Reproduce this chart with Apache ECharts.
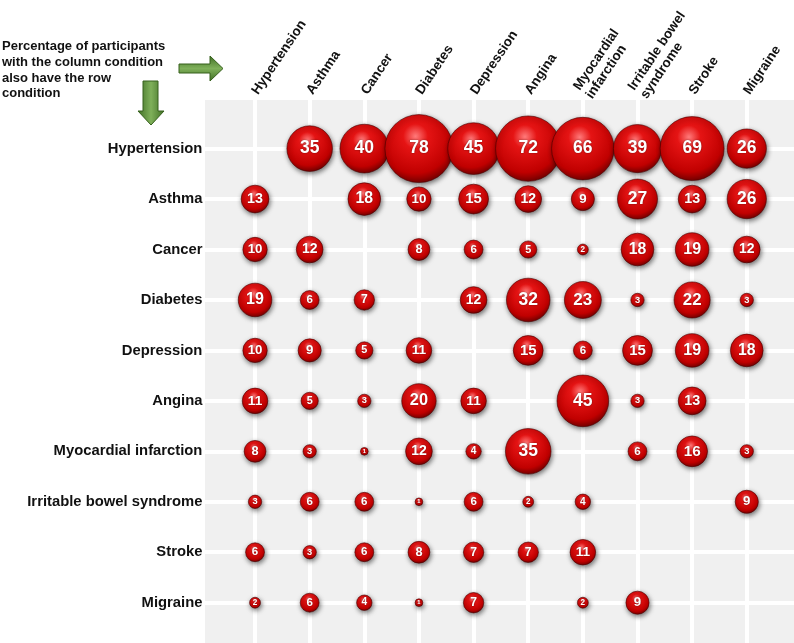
<!DOCTYPE html>
<html>
<head>
<meta charset="utf-8">
<script src="https://cdn.jsdelivr.net/npm/echarts@6/dist/echarts.min.js"></script>
<style>
  html, body { margin: 0; padding: 0; background: #fff; }
  #chart { width: 794px; height: 643px; }
</style>
</head>
<body>
<div id="chart"></div>
<script>
// column condition (top) and row condition (left)
const colNames = ['Hypertension', 'Asthma', 'Cancer', 'Diabetes', 'Depression', 'Angina',
  'Myocardial\ninfarction', 'Irritable bowel\nsyndrome', 'Stroke', 'Migraine']
const rowNames = ['Hypertension', 'Asthma', 'Cancer', 'Diabetes', 'Depression', 'Angina',
  'Myocardial infarction', 'Irritable bowel syndrome', 'Stroke', 'Migraine']

// one array per row, values per column (null = no bubble)
const hypertension = [null, 35, 40, 78, 45, 72, 66, 39, 69, 26]
const asthma       = [13, null, 18, 10, 15, 12, 9, 27, 13, 26]
const cancer       = [10, 12, null, 8, 6, 5, 2, 18, 19, 12]
const diabetes     = [19, 6, 7, null, 12, 32, 23, 3, 22, 3]
const depression   = [10, 9, 5, 11, null, 15, 6, 15, 19, 18]
const angina       = [11, 5, 3, 20, 11, null, 45, 3, 13, null]
const myocardial   = [8, 3, 1, 12, 4, 35, null, 6, 16, 3]
const ibs          = [3, 6, 6, 1, 6, 2, 4, null, null, 9]
const stroke       = [6, 3, 6, 8, 7, 7, 11, null, null, null]
const migraine     = [2, 6, 4, 1, 7, null, 2, 9, null, null]

const rowValues = [hypertension, asthma, cancer, diabetes, depression, angina, myocardial, ibs, stroke, migraine]

const FONT = "'Liberation Sans', Arial, sans-serif"

const bubbleColor = {
  type: 'radial', x: 0.45, y: 0.32, r: 0.72,
  colorStops: [
    { offset: 0, color: '#ff7a7a' },
    { offset: 0.25, color: '#e51414' },
    { offset: 0.75, color: '#c00000' },
    { offset: 1, color: '#620000' }
  ]
}

function bubbleSize(v) {
  return 7.7 * Math.sqrt(v)
}

// label size grows with the bubble, two-digit numbers a bit smaller
function labelSize(v) {
  let d = bubbleSize(v)
  if (v >= 10) return Math.min(17.5, 6 + d * 0.3)
  return Math.min(d * 0.75, 4 + d * 0.4)
}

let points = []
rowValues.forEach((vals, r) => {
  vals.forEach((v, c) => {
    if (v === null) return
    points.push({
      value: [c, r, v],
      label: { fontSize: labelSize(v) }
    })
  })
})

let chart = echarts.init(document.getElementById('chart'))
chart.setOption({
  animation: false,
  backgroundColor: '#fff',
  grid: {
    left: 200.4,
    top: 98.15,
    width: 601,
    height: 555,
    outerBoundsMode: 'none',
    containLabel: false
  },
  xAxis: {
    type: 'value',
    position: 'top',
    min: -1,
    max: 10,
    interval: 1,
    axisLine: { show: false },
    axisTick: { show: false },
    splitLine: { lineStyle: { color: '#fff', width: 4 } },
    axisLabel: {
      rotate: 56,
      margin: 5,
      color: '#111',
      fontWeight: 'bold',
      fontSize: 13.5,
      lineHeight: 15,
      fontFamily: FONT,
      formatter: v => colNames[v] || ''
    }
  },
  yAxis: {
    type: 'value',
    inverse: true,
    min: -1,
    max: 10,
    interval: 1,
    axisLine: { show: false },
    axisTick: { show: false },
    splitLine: { lineStyle: { color: '#fff', width: 4 } },
    axisLabel: {
      margin: -2,
      color: '#111',
      fontWeight: 'bold',
      fontSize: 14.8,
      fontFamily: FONT,
      padding: [0, 0, 3, 0],
      formatter: v => rowNames[v] || ''
    }
  },
  graphic: {
    elements: [
      {
        type: 'rect', z: -10, silent: true,
        shape: { x: 205, y: 100, width: 600, height: 560 },
        style: { fill: '#f0f0f0' }
      },
      {
        type: 'text', left: 2, top: 39, z: 10,
        style: {
          text: 'Percentage of participants\nwith the column condition\nalso have the row\ncondition',
          font: 'bold 13px ' + FONT,
          lineHeight: 15.6,
          fill: '#111'
        }
      },
      {
        type: 'polygon', z: 10,
        shape: { points: [[179, 64], [210, 64], [210, 56], [223, 68.5], [210, 81], [210, 73], [179, 73]] },
        style: {
          fill: {
            type: 'linear', x: 0, y: 0, x2: 0, y2: 1,
            colorStops: [
              { offset: 0, color: '#3f6e24' },
              { offset: 0.5, color: '#7fb05a' },
              { offset: 1, color: '#3f6e24' }
            ]
          },
          stroke: '#36601d', lineWidth: 1
        }
      },
      {
        type: 'polygon', z: 10,
        shape: { points: [[143, 81], [158, 81], [158, 111], [164, 111], [151, 125], [138, 111], [143, 111]] },
        style: {
          fill: {
            type: 'linear', x: 0, y: 0, x2: 1, y2: 0,
            colorStops: [
              { offset: 0, color: '#3f6e24' },
              { offset: 0.5, color: '#7fb05a' },
              { offset: 1, color: '#3f6e24' }
            ]
          },
          stroke: '#36601d', lineWidth: 1
        }
      }
    ]
  },
  series: [{
    type: 'scatter',
    data: points,
    symbolSize: val => bubbleSize(val[2]),
    itemStyle: {
      color: bubbleColor,
      opacity: 1,
      borderColor: '#4a0000',
      borderWidth: 0.6,
      shadowBlur: 5,
      shadowColor: 'rgba(0,0,0,0.55)',
      shadowOffsetX: 1,
      shadowOffsetY: 2
    },
    label: {
      show: true,
      position: 'inside',
      color: '#fff',
      fontWeight: 'bold',
      fontFamily: FONT,
      textShadowColor: 'rgba(0,0,0,0.5)',
      textShadowBlur: 2,
      formatter: p => p.value[2]
    },
    emphasis: { disabled: true }
  }]
})
</script>
</body>
</html>
